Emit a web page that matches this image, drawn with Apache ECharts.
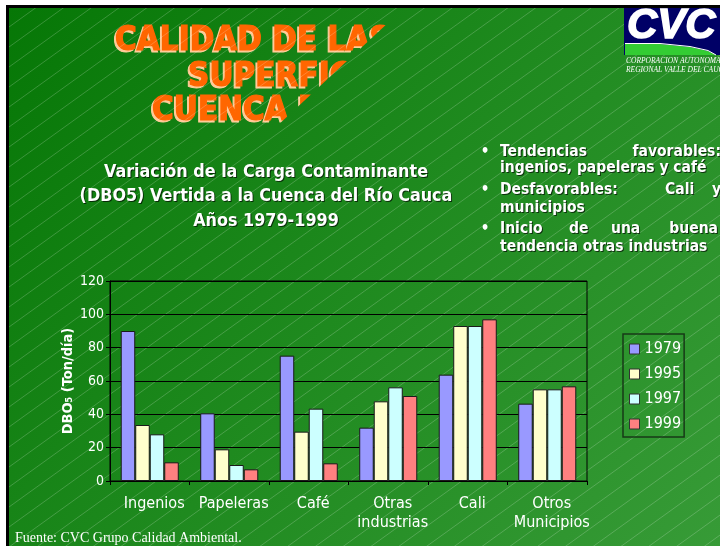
<!DOCTYPE html>
<html>
<head>
<meta charset="utf-8">
<script src="https://cdn.jsdelivr.net/npm/echarts@6/dist/echarts.min.js"></script>
<style>
html,body{margin:0;padding:0;background:#fff;}
#chart{width:720px;height:546px;}
</style>
</head>
<body>
<div id="chart"></div>
<script>
// ---- data ----
const categories = ['Ingenios', 'Papeleras', 'Café', 'Otras\nindustrias', 'Cali', 'Otros\nMunicipios'];
const years = ['1979', '1995', '1997', '1999'];
const v1979 = [90, 40.6, 75.2, 32, 63.8, 46.4];
const v1995 = [33.6, 19, 29.6, 47.8, 93, 55];
const v1997 = [28, 9.6, 43.4, 56.2, 93, 55];
const v1999 = [11.2, 7, 10.6, 51, 97, 56.8];
const yMin = 0, yMax = 120, yStep = 20;
const yAxisName = 'DBO\u2085 (Ton/día)';
const titleLines = ['CALIDAD DE LAS AGUAS', 'SUPERFICIALES', 'CUENCA RÍO CAUCA'];
const subtitleLines = ['Variación de la Carga Contaminante', '(DBO5) Vertida a la Cuenca del Río Cauca', 'Años 1979-1999'];
const sourceNote = 'Fuente: CVC Grupo Calidad Ambiental.';

// ---- styles ----
const seriesColors = ['#9999ff', '#ffffcc', '#ccffff', '#ff8080'];
const FONT = '"DejaVu Sans Condensed", "DejaVu Sans", sans-serif';

const chart = echarts.init(document.getElementById('chart'), null, {renderer: 'canvas'});

const bgGrad = new echarts.graphic.LinearGradient(9, 8, 720, 546, [
  {offset: 0, color: '#067706'},
  {offset: 0.5, color: '#1f8a1f'},
  {offset: 1, color: '#379b37'}
], true);

const els = [];
els.push({type: 'rect', z: -20, silent: true, shape: {x: 6, y: 5, width: 714, height: 541}, style: {fill: '#000'}});
els.push({type: 'rect', z: -19, silent: true, shape: {x: 9, y: 8, width: 711, height: 538}, style: {fill: bgGrad}});

// title with light shadow (partially hidden by overlay)
const titlePos = [[115, 41], [188, 77], [152, 111]];
titleLines.forEach((t, i) => {
  els.push({type: 'text', z: -18, silent: true, style: {
    text: t, x: titlePos[i][0] - 2, y: titlePos[i][1] + 2, verticalAlign: 'middle', align: 'left',
    font: 'bold 33px ' + FONT, fill: '#ffcc99', stroke: '#ffcc99', lineWidth: 1
  }});
  els.push({type: 'text', z: -18, silent: true, style: {
    text: t, x: titlePos[i][0], y: titlePos[i][1], verticalAlign: 'middle', align: 'left',
    font: 'bold 33px ' + FONT, fill: '#ff6600', stroke: '#ff6600', lineWidth: 1.2
  }});
});
els.push({type: 'polygon', z: -17, silent: true, shape: {points: [[404, 8], [622, 8], [622, 140], [262, 140]]}, style: {fill: bgGrad}});

// hatch lines
const s = 0.72;
for (let b = 7; b < 546 + s * 711 + 20; b += 20) {
  els.push({type: 'line', z: -16, silent: true, shape: {x1: 9, y1: b, x2: 720, y2: b - s * 711},
    style: {stroke: 'rgba(255,255,255,0.2)', lineWidth: 1}});
}
els.push({type: 'rect', z: -15, silent: true, shape: {x: 0, y: 0, width: 720, height: 5}, style: {fill: '#fff'}});
els.push({type: 'rect', z: -15, silent: true, shape: {x: 0, y: 0, width: 6, height: 546}, style: {fill: '#fff'}});
els.push({type: 'rect', z: -15, silent: true, shape: {x: 6, y: 5, width: 714, height: 3}, style: {fill: '#000'}});
els.push({type: 'rect', z: -15, silent: true, shape: {x: 6, y: 5, width: 3, height: 541}, style: {fill: '#000'}});

// logo
els.push({type: 'rect', z: -14, silent: true, shape: {x: 624, y: 8, width: 96, height: 47}, style: {fill: '#000066'}});
els.push({type: 'polygon', z: -13, silent: true, shape: {points: [[625, 44], [660, 44], [690, 47], [708, 51], [716, 55], [625, 55]]}, style: {fill: '#33cc33'}});
els.push({type: 'polyline', z: -12, silent: true, shape: {points: [[625, 43.5], [660, 43.5], [690, 46.5], [708, 50.5], [716, 55]]}, style: {stroke: '#ffffff', lineWidth: 1, fill: null}});
els.push({type: 'text', z: -12, silent: true, style: {text: 'CVC', x: 627, y: 26, verticalAlign: 'middle',
  font: 'italic bold 42px "Liberation Sans", Arial, sans-serif', fill: '#ffffff', stroke: '#ffffff', lineWidth: 1.5}});
els.push({type: 'text', z: -12, silent: true, style: {text: 'CORPORACION AUTONOMA', x: 626, y: 61, verticalAlign: 'middle',
  font: 'italic 7.5px "Liberation Serif", serif', fill: '#ffffff'}});
els.push({type: 'text', z: -12, silent: true, style: {text: 'REGIONAL VALLE DEL CAUCA', x: 626, y: 70, verticalAlign: 'middle',
  font: 'italic 7.5px "Liberation Serif", serif', fill: '#ffffff'}});

function shadowText(t, x, y, align, font) {
  els.push({type: 'text', z: -11, silent: true, style: {text: t, x: x + 1, y: y + 1, align: align, verticalAlign: 'middle', font: font, fill: 'rgba(0,0,0,0.65)'}});
  els.push({type: 'text', z: -10, silent: true, style: {text: t, x: x, y: y, align: align, verticalAlign: 'middle', font: font, fill: '#ffffff'}});
}

// subtitle
const subY = [172, 196, 221];
subtitleLines.forEach((t, i) => shadowText(t, 266, subY[i], 'center', 'bold 17.8px ' + FONT));

// bullet list (justified words)
const bulletFont = 'bold 15.5px ' + FONT;
const bulletWords = [
  [152, [['Tendencias', 500, 'left'], ['favorables:', 721, 'right']]],
  [168, [['ingenios, papeleras y café', 500, 'left']]],
  [190, [['Desfavorables:', 500, 'left'], ['Cali', 665, 'left'], ['y', 712, 'left']]],
  [208, [['municipios', 500, 'left']]],
  [229, [['Inicio', 500, 'left'], ['de', 569, 'left'], ['una', 611, 'left'], ['buena', 718, 'right']]],
  [247, [['tendencia otras industrias', 500, 'left']]]
];
bulletWords.forEach(([y, words]) => words.forEach(([w, x, al]) => shadowText(w, x, y, al, bulletFont)));
[152, 190, 229].forEach(y => {
  els.push({type: 'text', z: -10, silent: true, style: {text: '•', x: 485, y: y, align: 'center', verticalAlign: 'middle',
    font: 'bold 15px ' + FONT, fill: '#ffffff'}});
});

els.push({type: 'text', z: -10, silent: true, style: {text: sourceNote, x: 15, y: 538, verticalAlign: 'middle',
  font: '14px "Liberation Serif", "Times New Roman", serif', fill: '#ffffff'}});

const seriesData = [v1979, v1995, v1997, v1999];
const series = years.map((y, i) => ({
  name: y,
  type: 'bar',
  data: seriesData[i],
  barGap: '0%',
  barCategoryGap: '27%',
  itemStyle: {color: seriesColors[i], borderColor: '#1a1a1a', borderWidth: 1},
  emphasis: {disabled: true}
}));

chart.setOption({
  animation: false,
  backgroundColor: 'transparent',
  graphic: {elements: els},
  grid: {left: 110, right: 133, top: 281, bottom: 65, show: true, borderColor: '#000', borderWidth: 1, backgroundColor: 'transparent'},
  legend: {
    data: years, orient: 'vertical', left: 623, top: 334,
    padding: [7, 3, 5, 6], itemGap: 9, itemWidth: 10, itemHeight: 10, icon: 'rect',
    borderColor: '#173a17', borderWidth: 1.5,
    itemStyle: {borderColor: '#333', borderWidth: 1},
    textStyle: {color: '#ffffff', fontSize: 16, fontFamily: FONT},
    selectedMode: false
  },
  xAxis: {
    type: 'category', data: categories,
    axisLine: {show: true, lineStyle: {color: '#000', width: 1}},
    axisTick: {show: true, alignWithLabel: false, length: 4, lineStyle: {color: '#000'}},
    axisLabel: {color: '#ffffff', fontSize: 16, fontFamily: FONT, lineHeight: 19, margin: 13, interval: 0, padding: [0, 0, 0, 9]},
    splitLine: {show: false}
  },
  yAxis: {
    type: 'value', min: yMin, max: yMax, interval: yStep,
    name: yAxisName, nameLocation: 'middle', nameGap: 34, nameRotate: 90, nameMoveOverlap: false,
    nameTextStyle: {color: '#ffffff', fontWeight: 'bold', fontSize: 14.5, fontFamily: FONT},
    axisLine: {show: true, lineStyle: {color: '#000', width: 1}},
    axisTick: {show: true, length: 4, lineStyle: {color: '#000'}},
    axisLabel: {color: '#ffffff', fontSize: 14, fontFamily: FONT, margin: 6},
    splitLine: {show: true, lineStyle: {color: '#000', width: 1}}
  },
  series: series
});
</script>
</body>
</html>
